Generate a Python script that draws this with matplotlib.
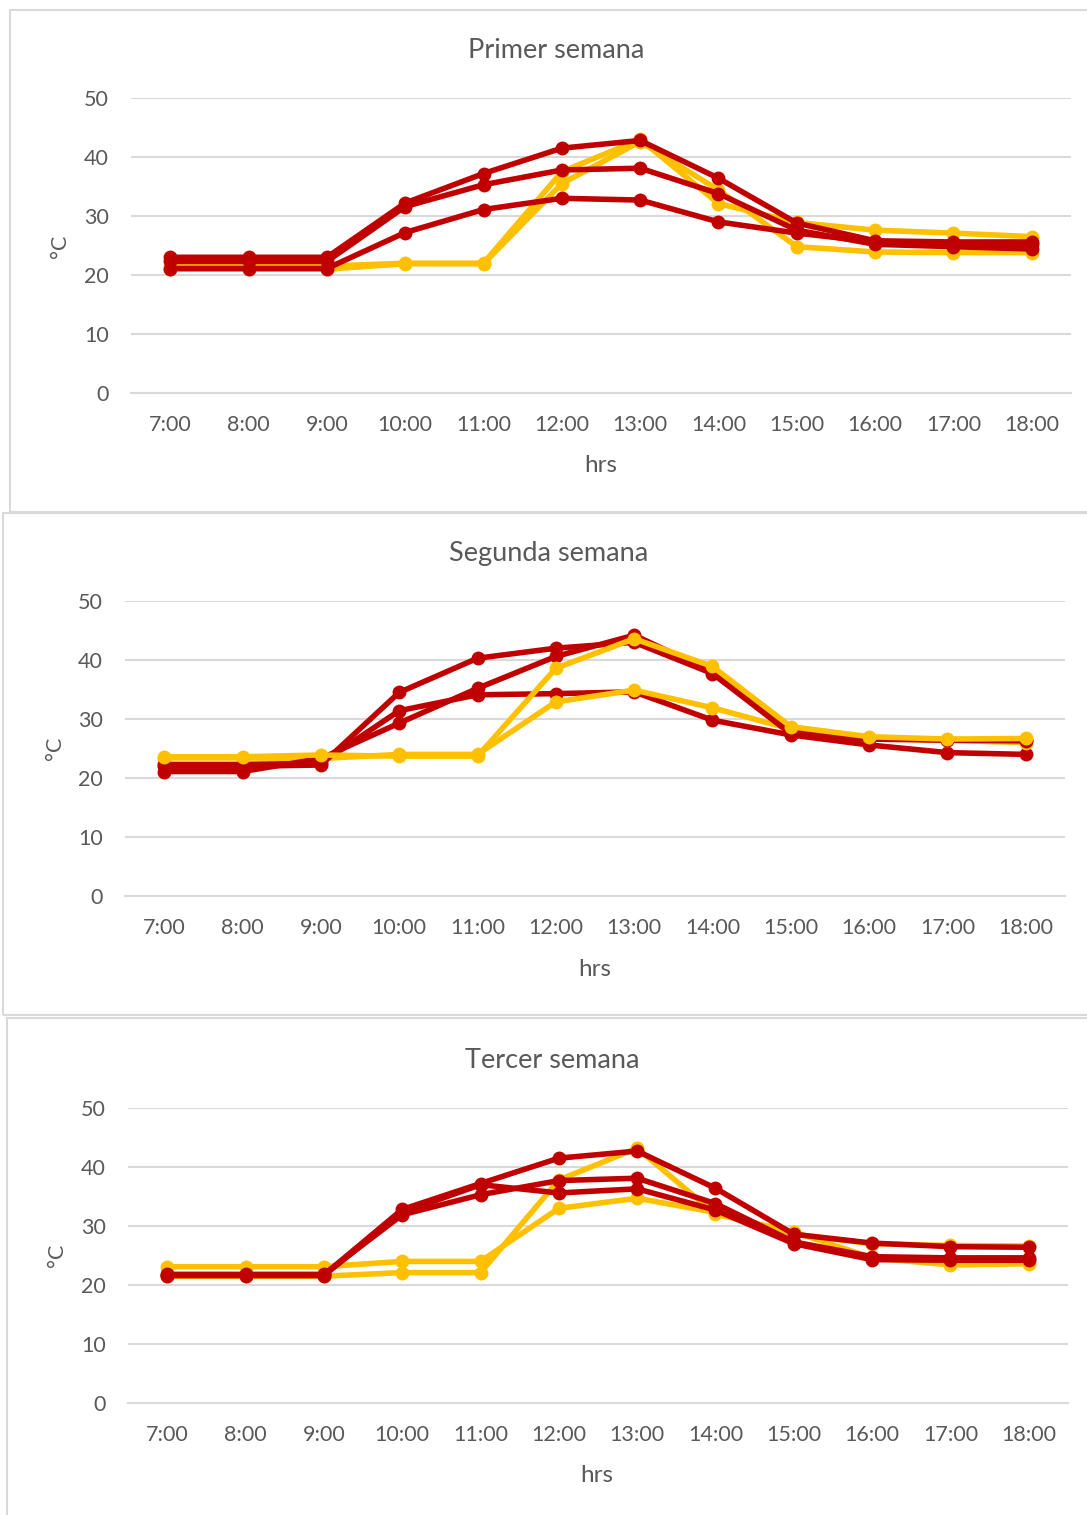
import matplotlib
matplotlib.use("Agg")
import matplotlib.pyplot as plt
from matplotlib.patches import Rectangle

plt.rcParams['font.family'] = ['Lato', 'DejaVu Sans']

# ---- data -------------------------------------------------------------
hours = ["7:00", "8:00", "9:00", "10:00", "11:00", "12:00",
         "13:00", "14:00", "15:00", "16:00", "17:00", "18:00"]

titles = ["Primer semana", "Segunda semana", "Tercer semana"]

# Primer semana
w1_yellow_a = [21.0, 21.0, 21.0, 21.9, 21.9, 35.5, 42.6, 34.4, 24.8, 23.9, 23.8, 23.8]
w1_yellow_b = [21.5, 21.5, 21.5, 22.0, 22.0, 37.5, 43.0, 32.1, 28.9, 27.6, 27.1, 26.5]
w1_red_a = [23.0, 23.0, 23.0, 32.2, 37.2, 41.5, 42.8, 36.4, 28.8, 25.8, 25.6, 25.6]
w1_red_b = [22.3, 22.3, 22.3, 31.6, 35.3, 37.8, 38.1, 33.8, 27.6, 25.2, 24.8, 24.4]
w1_red_c = [21.1, 21.1, 21.1, 27.2, 31.1, 33.0, 32.7, 29.0, 27.1, 25.6, 25.4, 25.3]

# Segunda semana
w2_yellow_a = [23.6, 23.6, 23.9, 23.7, 23.7, 38.6, 43.6, 38.9, 28.7, 27.0, 26.6, 26.7]
w2_yellow_b = [23.4, 23.4, 23.3, 24.0, 24.0, 32.9, 34.9, 31.9, 28.3, 26.8, 26.4, 26.0]
w2_red_a = [22.0, 22.0, 22.2, 34.5, 40.3, 42.0, 43.0, 37.7, 27.5, 26.6, 26.4, 26.3]
w2_red_b = [21.1, 21.1, 23.3, 29.3, 35.2, 40.6, 44.2, 38.0, 27.8, 26.7, 26.5, 26.4]
w2_red_c = [22.3, 22.3, 22.5, 31.4, 34.1, 34.3, 34.6, 29.8, 27.3, 25.6, 24.3, 24.0]

# Tercer semana
w3_yellow_a = [23.1, 23.1, 23.1, 24.0, 24.0, 33.0, 34.7, 32.3, 28.6, 27.0, 26.7, 26.6]
w3_yellow_b = [21.5, 21.5, 21.5, 22.1, 22.1, 37.8, 43.2, 32.0, 29.0, 24.6, 23.4, 23.6]
w3_red_a = [21.7, 21.7, 21.7, 32.8, 37.2, 41.5, 42.7, 36.4, 28.6, 27.1, 26.5, 26.4]
w3_red_b = [21.8, 21.8, 21.8, 31.9, 35.3, 37.7, 38.1, 33.8, 27.3, 24.8, 24.6, 24.6]
w3_red_c = [21.6, 21.6, 21.6, 32.3, 37.0, 35.6, 36.3, 32.7, 27.0, 24.3, 24.2, 24.2]

weeks = [
    [(w1_yellow_a, "y"), (w1_yellow_b, "y"), (w1_red_c, "r"), (w1_red_b, "r"), (w1_red_a, "r")],
    [(w2_red_c, "r"), (w2_yellow_b, "y"), (w2_red_b, "r"), (w2_red_a, "r"), (w2_yellow_a, "y")],
    [(w3_yellow_a, "y"), (w3_yellow_b, "y"), (w3_red_c, "r"), (w3_red_b, "r"), (w3_red_a, "r")],
]

# ---- styling ----------------------------------------------------------
W, H = 1087, 1515
RED = "#C00000"
YELLOW = "#FFC000"
GRID = "#D9D9D9"
TEXT = "#595959"
colors = {"r": RED, "y": YELLOW}

fig = plt.figure(figsize=(W / 100, H / 100), dpi=100)

# panel frames (pixels: x0, y0 top, x1, y1 bottom)
frames = [(10, 10, 1095, 512), (3, 513, 1095, 1015), (7, 1018, 1095, 1525)]
# plot areas (pixels: left, top(50), right, bottom(0))
plot_boxes = [(131, 98, 1071, 393), (125, 601, 1065, 896), (128, 1108, 1068, 1403)]
title_pos = [(556, 51), (549, 554), (552, 1061)]
xlabel_pos = [(601, 466), (595, 969), (597, 1476)]
ylabel_pos = [(60, 246), (55, 748), (57, 1255)]


def fx(px):
    return px / W


def fy(py):
    return 1 - py / H


for (x0, y0, x1, y1) in frames:
    fig.add_artist(Rectangle((fx(x0), fy(y1)), fx(x1 - x0), (y1 - y0) / H,
                             transform=fig.transFigure, fill=False,
                             edgecolor=GRID, linewidth=1.5))

for i, series in enumerate(weeks):
    l, t, r, b = plot_boxes[i]
    ax = fig.add_axes([fx(l), fy(b), fx(r - l), (b - t) / H])
    ax.set_xlim(-0.5, len(hours) - 0.5)
    ax.set_ylim(0, 50)
    x = range(len(hours))
    for vals, c in series:
        ax.plot(x, vals, color=colors[c], linewidth=4.0, marker="o",
                markersize=10, markeredgewidth=0, solid_capstyle="round",
                solid_joinstyle="round", zorder=3)
    ax.set_yticks(range(0, 51, 10))
    ax.set_xticks(list(x))
    ax.set_xticklabels(hours)
    ax.grid(axis="y", color=GRID, linewidth=1.5, zorder=0)
    ax.set_axisbelow(True)
    for s in ["top", "right", "left"]:
        ax.spines[s].set_visible(False)
    ax.spines["bottom"].set_color(GRID)
    ax.spines["bottom"].set_linewidth(1.5)
    ax.tick_params(length=0, labelsize=15.5, colors=TEXT)
    ax.tick_params(axis="y", pad=16)
    ax.tick_params(axis="x", pad=16)
    ax.set_facecolor("none")

    tx, ty = title_pos[i]
    fig.text(fx(tx), fy(ty), titles[i], ha="center", va="center",
             fontsize=19.5, color=TEXT)
    hx, hy = xlabel_pos[i]
    fig.text(fx(hx), fy(hy), "hrs", ha="center", va="center",
             fontsize=17.5, color=TEXT)
    cx, cy = ylabel_pos[i]
    fig.text(fx(cx), fy(cy), "°C", ha="center", va="center", rotation=90,
             fontsize=15.5, color=TEXT)

fig.savefig("out.png", dpi=100, facecolor="white")
